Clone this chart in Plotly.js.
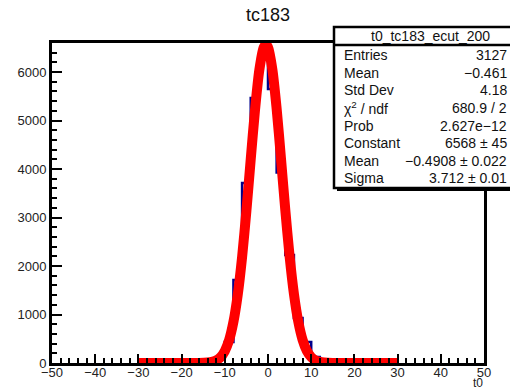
<!DOCTYPE html>
<html>
<head>
<meta charset="utf-8">
<script src="https://cdn.plot.ly/plotly-3.0.1.min.js"></script>
<style>html,body{margin:0;padding:0;background:#fff;}#chart{width:510px;height:391px;}</style>
</head>
<body>
<div id="chart"></div>
<script>
// ---- data ----
const chartTitle = "tc183";
const xAxisLabel = "t0";
const binLeftEdges = [-20,-18,-16,-14,-12,-10,-8,-6,-4,-2,0,2,4,6,8,10,12,14,16,18];
const binWidth = 2;
const binCounts    = [3,5,12,30,100,433,1711,3711,5464,6290,5650,3930,2227,928,433,124,60,35,20,12];
// red fit curve (Gaussian fit, range -30..30)
const fitX = [-30,-20,-16,-14,-13,-12,-11,-10,-9,-8,-7,-6,-5,-4,-3,-2,-1,-0.5,0,1,2,3,4,5,6,7,8,9,10,11,12,13,15,20,30];
const fitY = [0,0,1,9,22,54,119,247,474,849,1411,2183,3140,4200,5226,6047,6506,6568,6511,6060,5244,4222,3161,2200,1425,858,481,250,121,55,23,9,1,0,0];
const statsTitle = "t0_tc183_ecut_200";
const statsLabels = ["Entries","Mean","Std Dev","χ<sup>2</sup> / ndf","Prob","Constant","Mean","Sigma"];
const statsValues = ["3127","−0.461","4.18","680.9 / 2","2.627e−12","6568 ± 45","−0.4908 ± 0.022","3.712 ± 0.01"];
const xRange = [-50, 50];
const yRange = [0, 6600];

// ---- geometry ----
const W = 510, H = 391;
const mL = 52, mR = 26, mT = 43, mB = 28;
const pw = W - mL - mR, ph = H - mT - mB;
const px = x => (x - mL) / pw;
const py = y => (H - mB - y) / ph;

// histogram step line
const hx = binLeftEdges.concat([binLeftEdges[binLeftEdges.length-1] + binWidth]);
const hy = binCounts.concat([binCounts[binCounts.length-1]]);
const histTrace = {
  x: hx, y: hy, type: 'scatter', mode: 'lines',
  line: {shape: 'hv', color: '#00008c', width: 2.5},
  hoverinfo: 'skip'
};

const fitTrace = {
  x: fitX, y: fitY, type: 'scatter', mode: 'lines',
  line: {color: '#ff0000', width: 10, shape: 'spline', smoothing: 0.8},
  hoverinfo: 'skip'
};

const font = 'Liberation Sans, Arial, Helvetica, sans-serif';

// stats box
const boxL = 334, boxR = 520, boxT = 27, boxB = 188, sepY = 45;
const shapes = [
  {type:'rect', xref:'paper', yref:'paper', x0:px(boxL+3), x1:px(boxR+3), y0:py(boxB+3), y1:py(boxT+3),
   fillcolor:'black', line:{width:0}, layer:'above'},
  {type:'rect', xref:'paper', yref:'paper', x0:px(boxL), x1:px(boxR), y0:py(boxB), y1:py(boxT),
   fillcolor:'white', line:{color:'black', width:2.5}, layer:'above'},
  {type:'line', xref:'paper', yref:'paper', x0:px(boxL), x1:px(boxR), y0:py(sepY), y1:py(sepY),
   line:{color:'black', width:2.5}, layer:'above'}
];

const annotations = [
  {text: statsTitle, xref:'paper', yref:'paper', x:px(430), y:py(36), xanchor:'center', yanchor:'middle',
   showarrow:false, font:{family:font, size:14, color:'#111'}},
  {text: xAxisLabel, xref:'paper', yref:'paper', x:px(485), y:py(383), xanchor:'right', yanchor:'middle',
   showarrow:false, font:{family:font, size:12, color:'#222'}}
];
const rowY = [55, 72.5, 90, 107.5, 125.5, 143, 160.5, 178];
statsLabels.forEach((lab, i) => {
  annotations.push({text: lab, xref:'paper', yref:'paper', x:px(342), y:py(rowY[i]), xanchor:'left', yanchor:'middle',
    showarrow:false, font:{family:font, size:14, color:'#111'}});
  annotations.push({text: statsValues[i], xref:'paper', yref:'paper', x:px(509), y:py(rowY[i]), xanchor:'right', yanchor:'middle',
    showarrow:false, font:{family:font, size:14, color:'#111'}});
});

const layout = {
  width: W, height: H,
  margin: {l: mL, r: mR, t: mT, b: mB, pad: 0},
  paper_bgcolor: 'white', plot_bgcolor: 'white',
  showlegend: false,
  title: {text: chartTitle, x: 268 / W, xanchor: 'center', y: 1 - 15 / H, yanchor: 'middle',
          font: {family: font, size: 18, color: '#111'}},
  xaxis: {
    range: xRange, dtick: 10, tick0: 0, showgrid: false, zeroline: false,
    showline: true, linecolor: 'black', linewidth: 3, mirror: true,
    ticks: 'inside', ticklen: 9, tickwidth: 2, tickcolor: 'black',
    ticklabelstandoff: -5,
    minor: {dtick: 2, ticks: 'inside', ticklen: 5, tickwidth: 2, tickcolor: 'black', showgrid: false},
    tickfont: {family: font, size: 13, color: '#222'}
  },
  yaxis: {
    range: yRange, dtick: 1000, tick0: 0, showgrid: false, zeroline: false,
    showline: true, linecolor: 'black', linewidth: 3, mirror: true,
    ticks: 'inside', ticklen: 10, tickwidth: 2, tickcolor: 'black',
    minor: {dtick: 200, ticks: 'inside', ticklen: 5, tickwidth: 2, tickcolor: 'black', showgrid: false},
    tickfont: {family: font, size: 13, color: '#222'}
  },
  shapes: shapes,
  annotations: annotations
};

Plotly.newPlot('chart', [histTrace, fitTrace], layout, {staticPlot: true, displayModeBar: false});
</script>
</body>
</html>
